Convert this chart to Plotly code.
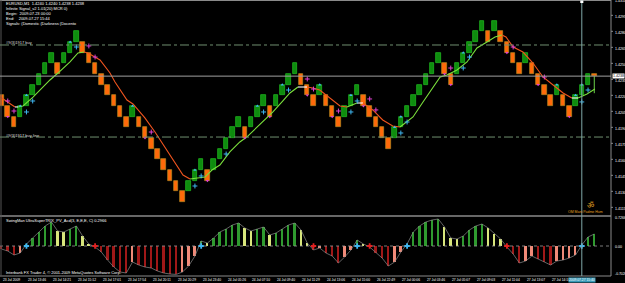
import plotly.graph_objects as go

W, H = 625, 283

# ---------------- data ----------------
brick_open = [1.4220, 1.4210, 1.4200, 1.4200, 1.4210, 1.4220, 1.4230, 1.4240, 1.4250, 1.4250,
              1.4250, 1.4260, 1.4270, 1.4270, 1.4260, 1.4250, 1.4240, 1.4230, 1.4220, 1.4210,
              1.4200, 1.4200, 1.4200, 1.4190, 1.4180, 1.4170, 1.4160, 1.4150, 1.4140, 1.4130,
              1.4130, 1.4140, 1.4150, 1.4150, 1.4150, 1.4160, 1.4170, 1.4180, 1.4190, 1.4190,
              1.4190, 1.4200, 1.4210, 1.4210, 1.4210, 1.4220, 1.4230, 1.4240, 1.4240, 1.4230,
              1.4220, 1.4220, 1.4220, 1.4210, 1.4200, 1.4200, 1.4210, 1.4220, 1.4220, 1.4210,
              1.4200, 1.4190, 1.4180, 1.4180, 1.4190, 1.4200, 1.4210, 1.4220, 1.4230, 1.4240,
              1.4250, 1.4250, 1.4240, 1.4240, 1.4250, 1.4260, 1.4270, 1.4280, 1.4280, 1.4280,
              1.4280, 1.4270, 1.4260, 1.4250, 1.4250, 1.4250, 1.4240, 1.4230, 1.4220, 1.4220,
              1.4220, 1.4210, 1.4210, 1.4220, 1.4230, 1.4240]
brick_close = [1.4210, 1.4200, 1.4190, 1.4210, 1.4220, 1.4230, 1.4240, 1.4250, 1.4260, 1.4240,
               1.4260, 1.4270, 1.4280, 1.4260, 1.4250, 1.4240, 1.4230, 1.4220, 1.4210, 1.4200,
               1.4190, 1.4210, 1.4190, 1.4180, 1.4170, 1.4160, 1.4150, 1.4140, 1.4130, 1.4120,
               1.4140, 1.4150, 1.4160, 1.4140, 1.4160, 1.4170, 1.4180, 1.4190, 1.4200, 1.4180,
               1.4200, 1.4210, 1.4220, 1.4200, 1.4220, 1.4230, 1.4240, 1.4250, 1.4230, 1.4220,
               1.4210, 1.4230, 1.4210, 1.4200, 1.4190, 1.4210, 1.4220, 1.4230, 1.4210, 1.4200,
               1.4190, 1.4180, 1.4170, 1.4190, 1.4200, 1.4210, 1.4220, 1.4230, 1.4240, 1.4250,
               1.4260, 1.4240, 1.4230, 1.4250, 1.4260, 1.4270, 1.4280, 1.4290, 1.4270, 1.4290,
               1.4270, 1.4260, 1.4250, 1.4240, 1.4260, 1.4240, 1.4230, 1.4220, 1.4210, 1.4230,
               1.4210, 1.4200, 1.4220, 1.4230, 1.4240, 1.4238]
last_low = 1.4222

ma_x = [-0.2, 2.16, 2.64, 3.45, 5.05, 7.77, 9.05, 10.98, 12.26, 13.22, 13.86, 15.79, 17.39, 18.19,
        20.11, 21.07, 22.98, 24.6, 26.2, 27.8, 29.09, 30.21, 31.33, 32.61, 33.73, 35.0, 36.6, 38.2,
        39.3, 40.95, 42.55, 43.5, 44.95, 46.23, 47.5, 48.96, 49.9, 51.0, 52.64, 54.25, 55.37, 56.97,
        57.93, 59.5, 61.1, 62.7, 63.86, 65.95, 67.55, 69.15, 70.3, 71.4, 73.0, 74.6, 76.2, 77.8,
        79.09, 80.2, 80.85, 82.0, 83.57, 85.17, 86.78, 88.4, 90.0, 91.4, 92.4, 93.83, 95.1]
ma_y = [1.42184, 1.42091, 1.42091, 1.42100, 1.42184, 1.42344, 1.42409, 1.42513, 1.42597, 1.42606,
        1.42597, 1.42531, 1.42409, 1.42325, 1.42156, 1.42119, 1.41988, 1.41856, 1.41716, 1.41566,
        1.41453, 1.41416, 1.41425, 1.41434, 1.41500, 1.41547, 1.41669, 1.41763, 1.41809, 1.41903,
        1.41997, 1.42044, 1.42138, 1.42222, 1.42278, 1.42278, 1.42269, 1.42250, 1.42175, 1.42100,
        1.42091, 1.42128, 1.42128, 1.42063, 1.41969, 1.41913, 1.41903, 1.41997, 1.42138, 1.42278,
        1.42372, 1.42391, 1.42438, 1.42513, 1.42644, 1.42700, 1.42747, 1.42766, 1.42747, 1.42653,
        1.42606, 1.42503, 1.42372, 1.42297, 1.42222, 1.42175, 1.42175, 1.42213, 1.42259]

up_sig_x = [4, 5, 12, 31, 32, 36, 42, 46, 56, 57, 64, 65, 74, 75, 93, 94]
up_sig_y = [1.42044, 1.42147, 1.42653, 1.41350, 1.41444, 1.41650, 1.42044, 1.42250, 1.42044,
            1.42147, 1.41847, 1.41950, 1.42456, 1.42559, 1.42138, 1.42250]
dn_sig_x = [1, 2, 14, 15, 24, 49, 50, 54, 59, 60, 72, 82, 87]
dn_sig_y = [1.42147, 1.42053, 1.42663, 1.42559, 1.41856, 1.42353, 1.42259, 1.42053, 1.42166,
            1.42063, 1.42456, 1.42653, 1.42372]
up_cap_idx = [3, 4, 11, 21, 31, 41, 45, 51, 56, 63, 64, 74, 89, 92, 93]
dn_cap_idx = [1, 23, 33, 39, 43, 49, 53, 58, 71, 72, 81, 86, 91]

osc = [-0.075, -0.125, -0.225, -0.175, 0.05, 0.2, 0.35, 0.5, 0.6, 0.375,
       0.35, 0.425, 0.5, 0.25, 0.05, -0.025, -0.15, -0.35, -0.525, -0.65,
       -0.675, -0.4, -0.475, -0.525, -0.55, -0.625, -0.675, -0.7, -0.71, -0.65,
       -0.5, -0.25, 0.125, 0.075, 0.2, 0.35, 0.425, 0.525, 0.575, 0.45,
       0.375, 0.425, 0.475, 0.275, 0.325, 0.425, 0.525, 0.575, 0.4, 0.075,
       -0.1, -0.05, -0.175, -0.25, -0.425, -0.275, -0.1, 0.15, 0.05, -0.025,
       -0.175, -0.3, -0.5, -0.4, -0.15, 0.05, 0.35, 0.5, 0.6, 0.65,
       0.675, 0.475, 0.2, 0.175, 0.25, 0.4, 0.5, 0.55, 0.45, 0.3,
       0.175, -0.025, -0.2, -0.425, -0.375, -0.25, -0.325, -0.4, -0.475, -0.375,
       -0.35, -0.3, -0.225, 0.025, 0.225, 0.3]
osc_up_idx = [4, 32, 57, 65, 93]
osc_dn_idx = [15, 50, 59, 81]

price_ticks = [1.4310, 1.4295, 1.4280, 1.4265, 1.4250, 1.4235, 1.4220, 1.4205, 1.4190,
               1.4175, 1.4160, 1.4145, 1.4130, 1.4115]
bid_price = 1.4238
level_hi = 1.42672
level_lo = 1.41809
time_labels = ["23 Jul 2009", "23 Jul 13:46", "23 Jul 14:21", "23 Jul 15:12", "23 Jul 17:01",
               "23 Jul 17:54", "23 Jul 20:11", "23 Jul 20:29", "23 Jul 23:40", "24 Jul 05:26",
               "24 Jul 07:10", "24 Jul 09:40", "24 Jul 11:29", "24 Jul 13:06", "24 Jul 15:00",
               "26 Jul 22:49", "27 Jul 00:06", "27 Jul 03:46", "27 Jul 05:07", "27 Jul 09:03",
               "27 Jul 11:04", "27 Jul 13:07", "27 Jul 14:10"]
time_idx = [0, 4, 8, 12, 16, 20, 24, 28, 32, 36, 40, 44, 48, 52, 56, 60, 64, 68, 72, 76, 80, 84, 88]
cursor_idx = 93
cursor_label = "2009.07.27 15:40"

# ---------------- geometry helpers ----------------
def px(x):
    return x / W

def py(y):
    return 1 - y / H

X0, X1 = -0.24, 97.68
PLOT_R = 611
MAIN_T, MAIN_B = 1, 215
IND_T, IND_B = 216, 276
PPX = 0.00009375  # price per pixel in main panel

FONT = "Liberation Sans"

fig = go.Figure()

# ---------------- renko bricks ----------------
idx = list(range(len(brick_open)))
bases = [min(o, c) for o, c in zip(brick_open, brick_close)]
heights = [abs(c - o) for o, c in zip(brick_open, brick_close)]
fills = ["#0e8c0e" if c > o else "#ff6a0a" for o, c in zip(brick_open, brick_close)]
edges = ["#22c022" if c > o else "#b88a20" for o, c in zip(brick_open, brick_close)]
fig.add_trace(go.Bar(x=idx, y=heights, base=bases, width=0.72,
                     marker=dict(color=fills, line=dict(color=edges, width=0.7)),
                     xaxis="x", yaxis="y", showlegend=False, hoverinfo="skip"))
fig.add_trace(go.Scatter(x=[idx[-1], idx[-1]], y=[last_low, brick_close[-1]], mode="lines",
                         line=dict(color="#6ad04a", width=1), xaxis="x", yaxis="y",
                         showlegend=False, hoverinfo="skip"))

# ---------------- moving average (colored by slope) ----------------
def seg_color(dy, dx):
    s = dy / dx
    if s > 0.00004:
        return "#7be03c"
    if s < -0.00004:
        return "#f0541e"
    return "#ffffff"

segs = []
for i in range(len(ma_x) - 1):
    c = seg_color(ma_y[i + 1] - ma_y[i], ma_x[i + 1] - ma_x[i])
    if segs and segs[-1][0] == c:
        segs[-1][1].append(i + 1)
    else:
        segs.append([c, [i, i + 1]])
for c, pts in segs:
    fig.add_trace(go.Scatter(x=[ma_x[k] for k in pts], y=[ma_y[k] for k in pts], mode="lines",
                             line=dict(color=c, width=1.1), xaxis="x", yaxis="y",
                             showlegend=False, hoverinfo="skip"))

# ---------------- signal markers ----------------
fig.add_trace(go.Scatter(x=up_sig_x, y=up_sig_y, mode="markers",
                         marker=dict(symbol="cross-thin", size=3.5, line=dict(color="#3fb6f0", width=1)),
                         xaxis="x", yaxis="y", showlegend=False, hoverinfo="skip"))
fig.add_trace(go.Scatter(x=dn_sig_x, y=dn_sig_y, mode="markers",
                         marker=dict(symbol="cross-thin", size=3.5, line=dict(color="#e040d0", width=1)),
                         xaxis="x", yaxis="y", showlegend=False, hoverinfo="skip"))
fig.add_trace(go.Scatter(x=up_cap_idx, y=[brick_close[k] for k in up_cap_idx], mode="markers",
                         marker=dict(symbol="triangle-up", size=3, color="#3fb6f0"),
                         xaxis="x", yaxis="y", showlegend=False, hoverinfo="skip"))
fig.add_trace(go.Scatter(x=dn_cap_idx, y=[brick_close[k] for k in dn_cap_idx], mode="markers",
                         marker=dict(symbol="triangle-down", size=3, color="#e040d0"),
                         xaxis="x", yaxis="y", showlegend=False, hoverinfo="skip"))

# ---------------- oscillator ----------------
osc_cols = []
for i, v in enumerate(osc):
    prev = osc[i - 1] if i > 0 else v
    if v >= 0:
        osc_cols.append("#2f9a2f" if v >= prev else "#d8e67c")
    else:
        osc_cols.append("#a01818" if v <= prev else "#f08a78")
fig.add_trace(go.Bar(x=idx, y=osc, width=0.3, marker=dict(color=osc_cols, line=dict(width=0)),
                     xaxis="x2", yaxis="y2", showlegend=False, hoverinfo="skip"))
fig.add_trace(go.Scatter(x=idx, y=osc, mode="lines", line=dict(color="#8c8c8c", width=0.7),
                         xaxis="x2", yaxis="y2", showlegend=False, hoverinfo="skip"))
fig.add_trace(go.Scatter(x=[X0, X1], y=[0, 0], mode="lines",
                         line=dict(color="#9a9a9a", width=0.8, dash="dot"),
                         xaxis="x2", yaxis="y2", showlegend=False, hoverinfo="skip"))
fig.add_trace(go.Scatter(x=osc_up_idx, y=[0] * len(osc_up_idx), mode="markers",
                         marker=dict(symbol="cross", size=4.5, color="#3fb6f0", line=dict(width=0)),
                         xaxis="x2", yaxis="y2", showlegend=False, hoverinfo="skip"))
fig.add_trace(go.Scatter(x=osc_dn_idx, y=[0] * len(osc_dn_idx), mode="markers",
                         marker=dict(symbol="cross", size=4.5, color="#e02020", line=dict(width=0)),
                         xaxis="x2", yaxis="y2", showlegend=False, hoverinfo="skip"))

# ---------------- shapes ----------------
shapes = []
grey = "#8a8a8a"
shapes.append(dict(type="line", xref="paper", yref="paper", x0=0, x1=px(PLOT_R), y0=py(0.5), y1=py(0.5),
                   line=dict(color=grey, width=1)))
shapes.append(dict(type="line", xref="paper", yref="paper", x0=0, x1=px(PLOT_R), y0=py(IND_T), y1=py(IND_T),
                   line=dict(color=grey, width=1.5)))
shapes.append(dict(type="line", xref="paper", yref="paper", x0=0, x1=px(PLOT_R), y0=py(IND_B), y1=py(IND_B),
                   line=dict(color=grey, width=1)))
shapes.append(dict(type="line", xref="paper", yref="paper", x0=px(PLOT_R), x1=px(PLOT_R), y0=py(0), y1=py(IND_B),
                   line=dict(color=grey, width=1)))
shapes.append(dict(type="line", xref="paper", yref="paper", x0=px(1), x1=px(1), y0=py(0), y1=py(IND_B),
                   line=dict(color="#555555", width=1)))
shapes.append(dict(type="line", xref="paper", yref="y", x0=0, x1=px(PLOT_R), y0=bid_price, y1=bid_price,
                   line=dict(color="#a0a0a0", width=1)))
for lv in (level_hi, level_lo):
    shapes.append(dict(type="line", xref="paper", yref="y", x0=0, x1=px(PLOT_R), y0=lv, y1=lv,
                       line=dict(color="#6f8f6f", width=1, dash="dashdot")))
shapes.append(dict(type="line", xref="x", yref="paper", x0=cursor_idx, x1=cursor_idx, y0=py(IND_B), y1=py(0),
                   line=dict(color="#7fa8a8", width=1)))
shapes.append(dict(type="rect", xref="x", yref="paper", x0=cursor_idx - 0.25, x1=cursor_idx + 0.25,
                   y0=py(3), y1=py(0.5), fillcolor="#ffffff", line=dict(width=0)))
for p in price_ticks:
    shapes.append(dict(type="line", xref="paper", yref="y", x0=px(PLOT_R), x1=px(PLOT_R + 2), y0=p, y1=p,
                       line=dict(color=grey, width=1)))

ann = []
def text(x, y, s, size=4, color="#ffffff", xanchor="left", xref="paper", yref="paper", bg=None):
    d = dict(x=x, y=y, xref=xref, yref=yref, text=s, showarrow=False, xanchor=xanchor, yanchor="middle",
             font=dict(family=FONT, size=size, color=color))
    if bg:
        d["bgcolor"] = bg
        d["borderpad"] = 0
    ann.append(d)

info = ["EURUSD,M1  1.4240 1.4240 1.4238 1.4238",
        "Infinite Signal_v2 1.01(20) MCR 0)",
        "Begin:  2009.07.23 00:00",
        "End:    2009.07.27 15:44",
        "Signals: (Domestic (Darkness (Docento"]
for k, s in enumerate(info):
    text(px(4), py(4 + 4.8 * k), s, size=4)
text(px(4), py(43), "#9(3)1917 buy", size=4, color="#dddddd")
text(px(4), py(135), "#9(3)1917 buy line", size=4, color="#dddddd")
text(px(4), py(220.5), "SwingMan UltraSuperTRIX_PV_Acd(3, E,E,E, C) 0.2966", size=4)
text(px(4), py(272), "Interbank FX Trader 4, \u00a9 2001-2009 MetaQuotes Software Corp.", size=4)
text(px(590), py(205), "\u0950", size=8, color="#e0a020", xanchor="center")
text(px(585), py(212), "OM Mani Padme Hum", size=3.5, color="#e0a020", xanchor="center")

for p in price_ticks:
    text(px(612.5), p - 1.8 * PPX, "%.4f" % p, size=3.6, yref="y")
text(px(611.5), bid_price, "%.4f" % bid_price, size=3.6, color="#000000", yref="y", bg="#ffffff")
text(px(612.5), 0.7266 - 0.03, "0.7266", size=3.6, yref="y2")
text(px(612.5), -0.03, "0.00", size=3.6, yref="y2")
text(px(612.5), -0.70, "-0.7026", size=3.4, yref="y2")
for k, s in zip(time_idx, time_labels):
    text(k - 0.1, py(280), s, size=3.3, xref="x")
text(cursor_idx, py(280), cursor_label, size=3.3, xref="x", xanchor="center", bg="#3a9ab8")

fig.update_layout(
    width=W, height=H, margin=dict(l=0, r=0, t=0, b=0),
    paper_bgcolor="#000000", plot_bgcolor="#000000",
    barmode="overlay", bargap=0,
    xaxis=dict(domain=[0, px(PLOT_R)], range=[X0, X1], visible=False, anchor="y"),
    yaxis=dict(domain=[py(MAIN_B), py(MAIN_T)], range=[1.410781, 1.430844], visible=False, anchor="x"),
    xaxis2=dict(domain=[0, px(PLOT_R)], range=[X0, X1], visible=False, anchor="y2", matches="x"),
    yaxis2=dict(domain=[py(IND_B), py(IND_T)], range=[-0.75, 0.75], visible=False, anchor="x2"),
    shapes=shapes, annotations=ann,
)

fig.write_html("out.html")
